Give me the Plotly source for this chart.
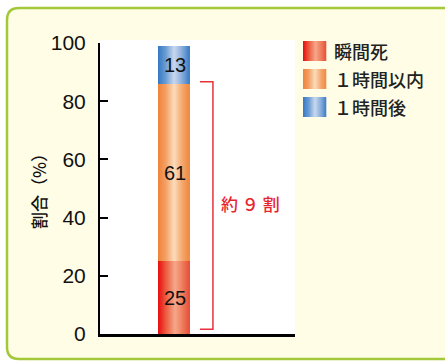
import plotly.graph_objects as go

# ---- data ----
series_names = ["瞬間死", "１時間以内", "１時間後"]
series_values = [25, 61, 13]
value_labels = ["25", "61", "13"]
y_ticks = [0, 20, 40, 60, 80, 100]
bracket_text = "約 ９ 割"
axis_title = "割合（%）"

# gradient stops per series (left -> right across the bar)
grad_stops = [
    [(0.0, "#e60c10"), (0.25, "#ec5a3e"), (0.55, "#f5a88a"), (0.8, "#ee7a5a"), (1.0, "#e8503a")],
    [(0.0, "#ef8238"), (0.25, "#f3a064"), (0.52, "#fcdcbc"), (0.8, "#f4a468"), (1.0, "#ef8a42")],
    [(0.0, "#3478c2"), (0.25, "#6b9cd4"), (0.52, "#c9d8ee"), (0.8, "#80a8da"), (1.0, "#3d7fc6")],
]


def hex2rgb(h):
    h = h.lstrip("#")
    return tuple(int(h[i:i + 2], 16) for i in (0, 2, 4))


def interp(stops, t):
    for (t0, c0), (t1, c1) in zip(stops[:-1], stops[1:]):
        if t0 <= t <= t1:
            f = (t - t0) / (t1 - t0) if t1 > t0 else 0
            a, b = hex2rgb(c0), hex2rgb(c1)
            r = [round(a[k] + (b[k] - a[k]) * f) for k in range(3)]
            return "rgb(%d,%d,%d)" % tuple(r)
    return stops[-1][1]


bases = []
acc = 0
for v in series_values:
    bases.append(acc)
    acc += v

# pixel geometry helpers
L, R, T, B = 100, 150, 43, 27
W, H = 445, 361
PW, PH = W - L - R, H - T - B


def px(x):
    return (x - L) / PW


def py(y):
    return (H - B - y) / PH


fig = go.Figure()

# background shapes: cream rounded panel, white plot area
x0, x1, y0, y1, r = 7, 470, 8, 359, 12
path = (
    f"M {px(x0 + r)},{py(y0)} L {px(x1)},{py(y0)} L {px(x1)},{py(y1)} "
    f"L {px(x0 + r)},{py(y1)} Q {px(x0)},{py(y1)} {px(x0)},{py(y1 - r)} "
    f"L {px(x0)},{py(y0 + r)} Q {px(x0)},{py(y0)} {px(x0 + r)},{py(y0)} Z"
)
shapes = [
    dict(type="path", xref="paper", yref="paper", path=path, layer="below",
         fillcolor="#fffde6", line=dict(color="#a3c93a", width=2.5)),
    dict(type="rect", xref="paper", yref="paper", x0=0, x1=1, y0=0, y1=py(40),
         layer="below", fillcolor="white", line=dict(width=0)),
]

# stacked bar drawn as thin vertical stripes to get the horizontal gradient
N = 31
for i in range(N):
    t = (i + 0.5) / N
    fig.add_trace(go.Bar(
        x=[-0.5 + t] * len(series_values),
        y=series_values,
        base=bases,
        width=1.4 / N,
        marker=dict(color=[interp(s, t) for s in grad_stops], line=dict(width=0)),
        showlegend=False,
        hoverinfo="skip",
    ))

annotations = []
for b, v, lab in zip(bases, series_values, value_labels):
    annotations.append(dict(x=0, y=b + v / 2, xref="x", yref="y", text=lab,
                            showarrow=False,
                            font=dict(family="Liberation Sans", size=20, color="#111")))

# bracket for 瞬間死 + １時間以内
top = bases[1] + series_values[1]
shapes.append(dict(type="path", xref="x", yref="y",
                   path=f"M 0.82,{top + 0.7} L 1.24,{top + 0.7} L 1.24,1.6 L 0.82,1.6",
                   line=dict(color="#e8303a", width=1.5)))
annotations.append(dict(x=2.45, y=top / 2 + 1.8, xref="x", yref="y", text=bracket_text,
                        showarrow=False,
                        font=dict(family="Noto Sans CJK JP", size=17, color="#e8242c",
                                  weight=500)))

# y axis title
annotations.append(dict(x=px(38), y=py(187), xref="paper", yref="paper", text=axis_title,
                        xanchor="center", yanchor="middle",
                        textangle=-90, showarrow=False,
                        font=dict(family="Noto Sans CJK JP", size=17, color="#111",
                                  weight=500)))

# legend (manual, with gradient swatches)
sw_x0, sw_w, sw_h = 303, 23, 20
sw_tops = [41, 69, 97]
for name, stops, top_px in zip(series_names, grad_stops, sw_tops):
    for k in range(sw_w):
        t = (k + 0.5) / sw_w
        shapes.append(dict(type="rect", xref="paper", yref="paper",
                           x0=px(sw_x0 + k), x1=px(sw_x0 + k + 1.3),
                           y0=py(top_px + sw_h), y1=py(top_px),
                           fillcolor=interp(stops, t), line=dict(width=0)))
    annotations.append(dict(x=px(332), y=py(top_px + sw_h / 2), xref="paper", yref="paper",
                            xanchor="left", yanchor="middle", text=name, showarrow=False,
                            font=dict(family="Noto Sans CJK JP", size=18, color="#222",
                                      weight=500)))

fig.update_layout(
    width=W, height=H,
    margin=dict(l=L, r=R, t=T, b=B),
    paper_bgcolor="white",
    plot_bgcolor="rgba(0,0,0,0)",
    barmode="overlay",
    bargap=0,
    showlegend=False,
    shapes=shapes,
    annotations=annotations,
    xaxis=dict(range=[(L - 174.5) / 31, (W - R - 174.5) / 31], showgrid=False,
               zeroline=False, showticklabels=False, ticks="",
               showline=True, linecolor="black", linewidth=2.5, fixedrange=True),
    yaxis=dict(range=[0, 100], tickvals=y_ticks, showgrid=False, zeroline=False,
               showline=True, linecolor="black", linewidth=2,
               ticks="inside", ticklen=8, tickwidth=1.5, tickcolor="black",
               ticklabelstandoff=8,
               tickfont=dict(family="Liberation Sans", size=21, color="#111"),
               fixedrange=True),
)

fig.write_html("out.html")
